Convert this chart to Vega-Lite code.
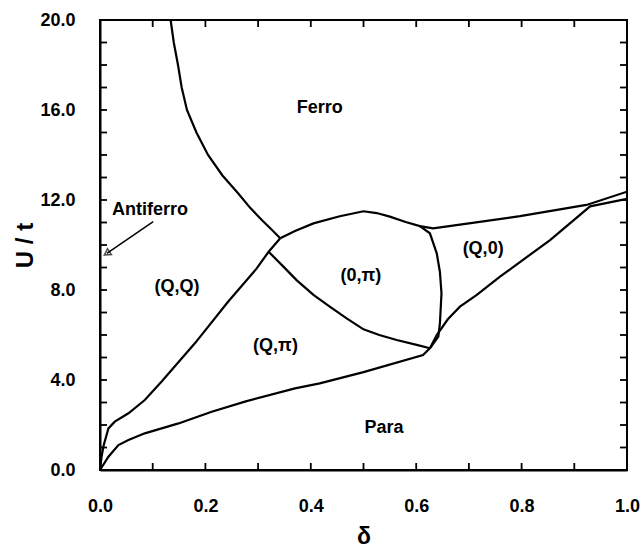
{
  "$schema": "https://vega.github.io/schema/vega-lite/v6.json",
  "autosize": {"type": "none"},
  "padding": {"left": 100, "top": 20, "right": 14, "bottom": 80},
  "width": 527,
  "height": 450,
  "background": "white",
  "config": {
    "view": {"stroke": "black", "strokeWidth": 2},
    "font": "Liberation Sans",
    "axis": {
      "grid": false,
      "domainColor": "black",
      "domainWidth": 2,
      "labelFont": "Liberation Sans",
      "labelFontSize": 18,
      "labelFontWeight": "bold",
      "labelColor": "black",
      "labelFlush": false,
      "titleFont": "Liberation Sans",
      "titleColor": "black",
      "titleFontWeight": "bold"
    }
  },
  "datasets": {
    "lines": [
      {"seg": "A", "o": 1, "d": 0.134, "u": 20.0},
      {"seg": "A", "o": 2, "d": 0.140, "u": 19.0},
      {"seg": "A", "o": 3, "d": 0.148, "u": 18.0},
      {"seg": "A", "o": 4, "d": 0.155, "u": 17.0},
      {"seg": "A", "o": 5, "d": 0.165, "u": 16.0},
      {"seg": "A", "o": 6, "d": 0.183, "u": 15.0},
      {"seg": "A", "o": 7, "d": 0.205, "u": 14.0},
      {"seg": "A", "o": 8, "d": 0.232, "u": 13.1},
      {"seg": "A", "o": 9, "d": 0.262, "u": 12.3},
      {"seg": "A", "o": 10, "d": 0.285, "u": 11.65},
      {"seg": "A", "o": 11, "d": 0.307, "u": 11.11},
      {"seg": "A", "o": 12, "d": 0.325, "u": 10.7},
      {"seg": "A", "o": 13, "d": 0.342, "u": 10.3},
      {"seg": "B", "o": 1, "d": 0.342, "u": 10.3},
      {"seg": "B", "o": 2, "d": 0.37, "u": 10.62},
      {"seg": "B", "o": 3, "d": 0.405, "u": 10.96},
      {"seg": "B", "o": 4, "d": 0.455, "u": 11.28},
      {"seg": "B", "o": 5, "d": 0.50, "u": 11.5},
      {"seg": "B", "o": 6, "d": 0.525, "u": 11.42},
      {"seg": "B", "o": 7, "d": 0.55, "u": 11.26},
      {"seg": "B", "o": 8, "d": 0.58, "u": 11.02},
      {"seg": "B", "o": 9, "d": 0.607, "u": 10.84},
      {"seg": "B", "o": 10, "d": 0.632, "u": 10.74},
      {"seg": "B", "o": 11, "d": 0.70, "u": 10.96},
      {"seg": "B", "o": 12, "d": 0.797, "u": 11.28},
      {"seg": "B", "o": 13, "d": 0.923, "u": 11.78},
      {"seg": "B", "o": 14, "d": 1.0, "u": 12.37},
      {"seg": "C", "o": 1, "d": 0.607, "u": 10.84},
      {"seg": "C", "o": 2, "d": 0.626, "u": 10.52},
      {"seg": "C", "o": 3, "d": 0.639, "u": 9.63},
      {"seg": "C", "o": 4, "d": 0.645, "u": 8.8},
      {"seg": "C", "o": 5, "d": 0.648, "u": 7.85},
      {"seg": "C", "o": 6, "d": 0.645, "u": 6.52},
      {"seg": "C", "o": 7, "d": 0.642, "u": 5.93},
      {"seg": "C", "o": 8, "d": 0.626, "u": 5.41},
      {"seg": "D", "o": 1, "d": 0.0, "u": 0.0},
      {"seg": "D", "o": 2, "d": 0.003, "u": 0.6},
      {"seg": "D", "o": 3, "d": 0.007, "u": 1.1},
      {"seg": "D", "o": 4, "d": 0.016, "u": 1.85},
      {"seg": "D", "o": 5, "d": 0.028, "u": 2.15},
      {"seg": "D", "o": 6, "d": 0.054, "u": 2.52},
      {"seg": "D", "o": 7, "d": 0.085, "u": 3.11},
      {"seg": "D", "o": 8, "d": 0.117, "u": 3.93},
      {"seg": "D", "o": 9, "d": 0.18, "u": 5.63},
      {"seg": "D", "o": 10, "d": 0.243, "u": 7.48},
      {"seg": "D", "o": 11, "d": 0.297, "u": 8.95},
      {"seg": "D", "o": 12, "d": 0.32, "u": 9.7},
      {"seg": "D", "o": 13, "d": 0.342, "u": 10.3},
      {"seg": "E", "o": 1, "d": 0.32, "u": 9.7},
      {"seg": "E", "o": 2, "d": 0.348, "u": 9.04},
      {"seg": "E", "o": 3, "d": 0.373, "u": 8.44},
      {"seg": "E", "o": 4, "d": 0.405, "u": 7.78},
      {"seg": "E", "o": 5, "d": 0.436, "u": 7.26},
      {"seg": "E", "o": 6, "d": 0.468, "u": 6.74},
      {"seg": "E", "o": 7, "d": 0.50, "u": 6.25},
      {"seg": "E", "o": 8, "d": 0.53, "u": 6.0},
      {"seg": "E", "o": 9, "d": 0.563, "u": 5.78},
      {"seg": "E", "o": 10, "d": 0.601, "u": 5.56},
      {"seg": "E", "o": 11, "d": 0.626, "u": 5.41},
      {"seg": "F", "o": 1, "d": 0.0, "u": 0.0},
      {"seg": "F", "o": 2, "d": 0.016, "u": 0.59},
      {"seg": "F", "o": 3, "d": 0.035, "u": 1.11},
      {"seg": "F", "o": 4, "d": 0.054, "u": 1.33},
      {"seg": "F", "o": 5, "d": 0.085, "u": 1.63},
      {"seg": "F", "o": 6, "d": 0.149, "u": 2.07},
      {"seg": "F", "o": 7, "d": 0.212, "u": 2.59},
      {"seg": "F", "o": 8, "d": 0.275, "u": 3.04},
      {"seg": "F", "o": 9, "d": 0.37, "u": 3.63},
      {"seg": "F", "o": 10, "d": 0.417, "u": 3.85},
      {"seg": "F", "o": 11, "d": 0.50, "u": 4.35},
      {"seg": "F", "o": 12, "d": 0.613, "u": 5.11},
      {"seg": "F", "o": 13, "d": 0.626, "u": 5.41},
      {"seg": "G", "o": 1, "d": 0.626, "u": 5.41},
      {"seg": "G", "o": 2, "d": 0.639, "u": 6.0},
      {"seg": "G", "o": 3, "d": 0.66, "u": 6.7},
      {"seg": "G", "o": 4, "d": 0.683, "u": 7.26},
      {"seg": "G", "o": 5, "d": 0.715, "u": 7.78},
      {"seg": "G", "o": 6, "d": 0.759, "u": 8.59},
      {"seg": "G", "o": 7, "d": 0.854, "u": 10.22},
      {"seg": "G", "o": 8, "d": 0.93, "u": 11.72},
      {"seg": "G", "o": 9, "d": 1.0, "u": 12.05}
    ],
    "arrow": [
      {"o": 1, "d": 0.101, "u": 11.04},
      {"o": 2, "d": 0.013, "u": 9.63}
    ],
    "labels": [
      {"t": "Ferro", "d": 0.417, "u": 16.1},
      {"t": "Antiferro", "d": 0.095, "u": 11.56},
      {"t": "(Q,Q)", "d": 0.146, "u": 8.13},
      {"t": "(Q,π)", "d": 0.333, "u": 5.51},
      {"t": "(0,π)", "d": 0.495, "u": 8.62},
      {"t": "(Q,0)", "d": 0.727, "u": 9.82},
      {"t": "Para", "d": 0.539, "u": 1.87}
    ],
    "xticks": [
      {"d": 0.1}, {"d": 0.2}, {"d": 0.3}, {"d": 0.4}, {"d": 0.5},
      {"d": 0.6}, {"d": 0.7}, {"d": 0.8}, {"d": 0.9}
    ],
    "yticks": [
      {"u": 1}, {"u": 2}, {"u": 3}, {"u": 4}, {"u": 5}, {"u": 6}, {"u": 7},
      {"u": 8}, {"u": 9}, {"u": 10}, {"u": 11}, {"u": 12}, {"u": 13},
      {"u": 14}, {"u": 15}, {"u": 16}, {"u": 17}, {"u": 18}, {"u": 19}
    ]
  },
  "resolve": {
    "scale": {"x": "independent", "y": "independent"},
    "axis": {"x": "independent", "y": "independent"}
  },
  "layer": [
    {
      "data": {"name": "lines"},
      "mark": {"type": "point", "opacity": 0},
      "encoding": {
        "x": {
          "field": "d", "type": "quantitative",
          "scale": {"domain": [0, 1], "nice": false, "zero": false},
          "axis": {
            "orient": "bottom",
            "values": [0, 0.2, 0.4, 0.6, 0.8, 1.0],
            "format": ".1f",
            "ticks": false,
            "labelPadding": 27,
            "title": "δ",
            "titleFontSize": 23,
            "titlePadding": 10
          }
        },
        "y": {
          "field": "u", "type": "quantitative",
          "scale": {"domain": [0, 20], "nice": false, "zero": false},
          "axis": {
            "orient": "left",
            "values": [0, 4, 8, 12, 16, 20],
            "format": ".1f",
            "ticks": false,
            "labelPadding": 25,
            "title": "U / t",
            "titleFontSize": 24,
            "titlePadding": 2
          }
        }
      }
    },
    {
      "data": {"name": "xticks"},
      "mark": {"type": "tick", "orient": "vertical", "color": "black", "size": 14, "thickness": 1.8, "clip": true, "opacity": 1},
      "encoding": {
        "x": {"field": "d", "type": "quantitative", "scale": {"domain": [0, 1], "nice": false, "zero": false}, "axis": null},
        "y": {"datum": 0, "type": "quantitative", "scale": {"domain": [0, 20], "nice": false, "zero": false}, "axis": null}
      }
    },
    {
      "data": {"name": "xticks"},
      "mark": {"type": "tick", "orient": "vertical", "color": "black", "size": 14, "thickness": 1.8, "clip": true, "opacity": 1},
      "encoding": {
        "x": {"field": "d", "type": "quantitative", "scale": {"domain": [0, 1], "nice": false, "zero": false}, "axis": null},
        "y": {"datum": 20, "type": "quantitative", "scale": {"domain": [0, 20], "nice": false, "zero": false}, "axis": null}
      }
    },
    {
      "data": {"name": "yticks"},
      "mark": {"type": "tick", "orient": "horizontal", "color": "black", "size": 14, "thickness": 1.8, "clip": true, "opacity": 1},
      "encoding": {
        "x": {"datum": 0, "type": "quantitative", "scale": {"domain": [0, 1], "nice": false, "zero": false}, "axis": null},
        "y": {"field": "u", "type": "quantitative", "scale": {"domain": [0, 20], "nice": false, "zero": false}, "axis": null}
      }
    },
    {
      "data": {"name": "yticks"},
      "mark": {"type": "tick", "orient": "horizontal", "color": "black", "size": 14, "thickness": 1.8, "clip": true, "opacity": 1},
      "encoding": {
        "x": {"datum": 1, "type": "quantitative", "scale": {"domain": [0, 1], "nice": false, "zero": false}, "axis": null},
        "y": {"field": "u", "type": "quantitative", "scale": {"domain": [0, 20], "nice": false, "zero": false}, "axis": null}
      }
    },
    {
      "data": {"name": "lines"},
      "mark": {"type": "line", "color": "black", "strokeWidth": 2.2, "clip": true},
      "encoding": {
        "x": {"field": "d", "type": "quantitative", "scale": {"domain": [0, 1], "nice": false, "zero": false}, "axis": null},
        "y": {"field": "u", "type": "quantitative", "scale": {"domain": [0, 20], "nice": false, "zero": false}, "axis": null},
        "detail": {"field": "seg"},
        "order": {"field": "o", "type": "quantitative"}
      }
    },
    {
      "data": {"name": "arrow"},
      "mark": {"type": "line", "color": "black", "strokeWidth": 1.5},
      "encoding": {
        "x": {"field": "d", "type": "quantitative", "scale": {"domain": [0, 1], "nice": false, "zero": false}, "axis": null},
        "y": {"field": "u", "type": "quantitative", "scale": {"domain": [0, 20], "nice": false, "zero": false}, "axis": null},
        "order": {"field": "o", "type": "quantitative"}
      }
    },
    {
      "data": {"name": "arrow"},
      "transform": [{"filter": "datum.o == 2"}],
      "mark": {"type": "point", "shape": "triangle-up", "angle": 236, "size": 50, "filled": false, "color": "black", "strokeWidth": 1.5},
      "encoding": {
        "x": {"field": "d", "type": "quantitative", "scale": {"domain": [0, 1], "nice": false, "zero": false}, "axis": null},
        "y": {"field": "u", "type": "quantitative", "scale": {"domain": [0, 20], "nice": false, "zero": false}, "axis": null}
      }
    },
    {
      "data": {"name": "labels"},
      "mark": {"type": "text", "font": "Liberation Sans", "fontSize": 18, "fontWeight": "bold", "color": "black", "baseline": "middle", "align": "center"},
      "encoding": {
        "x": {"field": "d", "type": "quantitative", "scale": {"domain": [0, 1], "nice": false, "zero": false}, "axis": null},
        "y": {"field": "u", "type": "quantitative", "scale": {"domain": [0, 20], "nice": false, "zero": false}, "axis": null},
        "text": {"field": "t"}
      }
    }
  ]
}
